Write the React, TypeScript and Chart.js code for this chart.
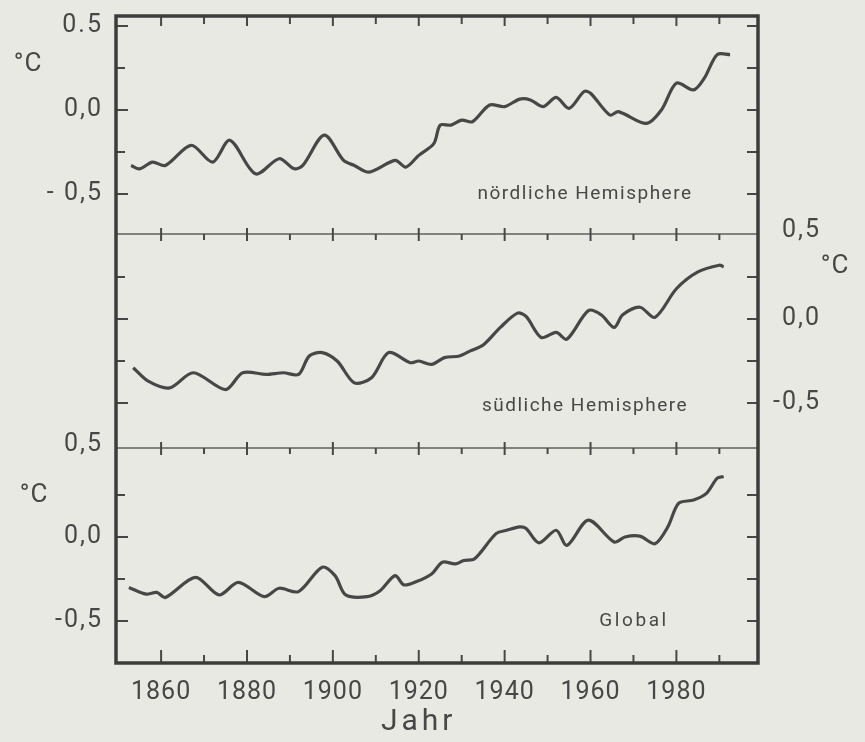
import React, { useEffect, useRef } from "react";
import { Chart, registerables } from "chart.js";

Chart.register(...registerables);

// ---------- data ----------
const NORTH_YEARS = [
  1853, 1855, 1858, 1861, 1867, 1872, 1876, 1882, 1887.5, 1891, 1893, 1898, 1902.5, 1905, 1908.5,
  1914.5, 1917, 1920, 1923.5, 1925, 1927.5, 1930, 1932.5, 1936.5, 1940, 1943.5, 1946, 1949, 1952,
  1955, 1958.5, 1960, 1964.5, 1966.5, 1973, 1976.5, 1980, 1984, 1986.5, 1989.5, 1992.5,
];
const NORTH_VALUES = [
  -0.33, -0.35, -0.31, -0.33, -0.21, -0.31, -0.18, -0.38, -0.29, -0.35, -0.33, -0.15, -0.3, -0.33, -0.37,
  -0.3, -0.34, -0.27, -0.2, -0.09, -0.09, -0.06, -0.07, 0.03, 0.02, 0.065, 0.06, 0.02, 0.075,
  0.01, 0.11, 0.1, -0.03, -0.01, -0.08, 0.0, 0.16, 0.12, 0.19, 0.33, 0.33,
];

const SOUTH_YEARS = [
  1853.5, 1857, 1862, 1867.5, 1875, 1879, 1884.5, 1888.5, 1892, 1894.5, 1897.5, 1901, 1905, 1909,
  1913, 1918, 1920, 1923, 1926, 1929.5, 1932, 1935, 1939, 1943, 1945, 1948.5, 1952, 1954.5, 1959.5,
  1962.5, 1965.5, 1967.5, 1971.5, 1975, 1980, 1985, 1990, 1991,
];
const SOUTH_VALUES = [
  -0.29, -0.37, -0.41, -0.32, -0.42, -0.32, -0.33, -0.32, -0.33, -0.22, -0.2, -0.25, -0.38, -0.35,
  -0.2, -0.26, -0.25, -0.27, -0.23, -0.22, -0.19, -0.155, -0.05, 0.035, 0.015, -0.11, -0.08, -0.12, 0.05,
  0.025, -0.05, 0.025, 0.07, 0.01, 0.18, 0.28, 0.32, 0.31,
];

const GLOBAL_YEARS = [
  1852.5, 1856.5, 1859, 1861, 1868, 1873.5, 1878, 1884, 1887.5, 1892, 1897.5, 1900.5, 1903, 1908,
  1911, 1914.5, 1916.5, 1919.5, 1923, 1925.5, 1928.5, 1930.5, 1933, 1938, 1940.5, 1943.5, 1945, 1948,
  1952, 1954.5, 1959.5, 1965.5, 1968, 1971.5, 1975, 1978, 1980.5, 1984, 1987, 1989.5, 1991,
];
const GLOBAL_VALUES = [
  -0.3, -0.34, -0.33, -0.36, -0.24, -0.345, -0.27, -0.355, -0.305, -0.325, -0.18, -0.23, -0.345, -0.355,
  -0.32, -0.23, -0.285, -0.265, -0.22, -0.15, -0.16, -0.14, -0.13, 0.02, 0.04, 0.06, 0.05, -0.035,
  0.04, -0.05, 0.1, -0.03, 0.0, 0.005, -0.04, 0.06, 0.2, 0.22, 0.26, 0.35, 0.36,
];

const X_TICKS = [1860, 1870, 1880, 1890, 1900, 1910, 1920, 1930, 1940, 1950, 1960, 1970, 1980, 1990];
const X_LABELS = [1860, 1880, 1900, 1920, 1940, 1960, 1980];
const Y_TICKS = [0.5, 0.25, 0, -0.25, -0.5];
const Y_LABEL_VALUES = [0.5, 0, -0.5];
const NORTH_TICK_LABELS = ["0.5", "0,0", "- 0,5"];
const SOUTH_TICK_LABELS = ["0,5", "0,0", "-0,5"];
const GLOBAL_TICK_LABELS = ["0,5", "0,0", "-0,5"];
const PANEL_TITLES = ["nördliche Hemisphere", "südliche Hemisphere", "Global"];
const UNIT = "°C";
const X_TITLE = "Jahr";

// ---------- layout / style ----------
const W = 865;
const H = 742;
const AREA = { left: 116, top: 16, right: 758, bottom: 663 };
const X_MIN = 1849.5;
const X_MAX = 1999;
const PPU = 168; // pixels per °C
const PANELS = [
  { id: "yN", zero: 110, top: 16, bottom: 234, side: "left", labels: NORTH_TICK_LABELS, unitValue: 0.27, unitX: 28, titleX: 585, titleValue: -0.5, title: PANEL_TITLES[0], titleSpacing: 1.5 },
  { id: "yS", zero: 319, top: 234, bottom: 448, side: "right", labels: SOUTH_TICK_LABELS, unitValue: 0.31, unitX: 835, titleX: 585, titleValue: -0.52, title: PANEL_TITLES[1], titleSpacing: 1.5 },
  { id: "yG", zero: 537, top: 448, bottom: 663, side: "left", labels: GLOBAL_TICK_LABELS, unitValue: 0.25, unitX: 34, titleX: 634, titleValue: -0.5, title: PANEL_TITLES[2], titleSpacing: 2.6 },
];
const BG = "#e9e9e4";
const INK = "#474747";
const FONT = 'Roboto, "DejaVu Sans", sans-serif';

const decor = {
  id: "decor",
  beforeDraw(chart: any) {
    const { ctx, width, height } = chart;
    ctx.save();
    ctx.fillStyle = BG;
    ctx.fillRect(0, 0, width, height);
    ctx.restore();
  },
  afterDraw(chart: any) {
    const { ctx, chartArea: a } = chart;
    const xs = chart.scales.x;
    ctx.save();
    ctx.strokeStyle = INK;
    ctx.fillStyle = INK;
    ctx.lineCap = "butt";

    const line = (x1: number, y1: number, x2: number, y2: number) => {
      ctx.beginPath();
      ctx.moveTo(x1, y1);
      ctx.lineTo(x2, y2);
      ctx.stroke();
    };

    // dividers between panels
    ctx.lineWidth = 1.3;
    ctx.strokeStyle = "#5e5e5e";
    const dividers = PANELS.slice(1).map((p) => p.top);
    dividers.forEach((y) => line(a.left, y, a.right, y));

    // x ticks
    ctx.strokeStyle = INK;
    ctx.lineWidth = 2;
    X_TICKS.forEach((t) => {
      const px = xs.getPixelForValue(t);
      const major = X_LABELS.includes(t);
      line(px, a.top, px, a.top + (major ? 10 : 8));
      dividers.forEach((y) => {
        if (major) line(px, y - 6, px, y + 7);
        else line(px, y, px, y + 6);
      });
      line(px, a.bottom, px, a.bottom - (major ? 13 : 8));
    });

    // y ticks & labels per panel
    PANELS.forEach((p) => {
      const ys = chart.scales[p.id];
      Y_TICKS.forEach((v) => {
        const py = ys.getPixelForValue(v);
        if (Math.abs(py - p.top) < 6 && p.top !== a.top) return;
        const major = Y_LABEL_VALUES.includes(v);
        ctx.lineWidth = 2;
        line(a.left, py, a.left + (major ? 12 : 9), py);
        line(a.right, py, a.right - 11, py);
      });
      ctx.font = `25px ${FONT}`;
      ctx.textBaseline = "middle";
      (ctx as any).letterSpacing = "2px";
      Y_LABEL_VALUES.forEach((v, i) => {
        let py = ys.getPixelForValue(v);
        if (v === 0.5 && p.top !== a.top) py = p.top - 3;
        ctx.textAlign = "right";
        if (p.side === "left") {
          ctx.fillText(p.labels[i], a.left - 13, py);
        } else {
          ctx.fillText(p.labels[i], a.right + 63, py);
        }
      });
      // unit
      (ctx as any).letterSpacing = "1px";
      ctx.font = `26px ${FONT}`;
      ctx.textAlign = "center";
      ctx.fillText(UNIT, p.unitX, ys.getPixelForValue(p.unitValue));
      // panel title
      ctx.font = `19px ${FONT}`;
      (ctx as any).letterSpacing = `${p.titleSpacing}px`;
      ctx.fillText(p.title, p.titleX, ys.getPixelForValue(p.titleValue));
    });

    // x labels
    (ctx as any).letterSpacing = "1px";
    ctx.font = `25px ${FONT}`;
    ctx.textAlign = "center";
    ctx.textBaseline = "middle";
    X_LABELS.forEach((t) => {
      ctx.fillText(String(t), xs.getPixelForValue(t), a.bottom + 30);
    });
    ctx.font = `30px ${FONT}`;
    (ctx as any).letterSpacing = "4px";
    ctx.fillText(X_TITLE, xs.getPixelForValue(1920), a.bottom + 59);

    // frame
    (ctx as any).letterSpacing = "0px";
    ctx.lineWidth = 3.5;
    ctx.strokeStyle = "#3c3c3c";
    ctx.strokeRect(a.left, a.top, a.right - a.left, a.bottom - a.top);
    ctx.restore();
  },
};

function series(years: number[], values: number[]) {
  return years.map((x, i) => ({ x, y: values[i] }));
}

export default function App() {
  const ref = useRef<HTMLCanvasElement>(null);
  useEffect(() => {
    const canvas = ref.current;
    if (!canvas) return;
    const yScales: any = {};
    PANELS.forEach((p) => {
      yScales[p.id] = {
        type: "linear",
        display: false,
        min: (p.zero - AREA.bottom) / PPU,
        max: (p.zero - AREA.top) / PPU,
      };
    });
    const common = {
      borderColor: INK,
      borderWidth: 3.2,
      pointRadius: 0,
      tension: 0.3,
      fill: false,
    };
    const chart = new Chart(canvas, {
      type: "line",
      data: {
        datasets: [
          { ...common, label: PANEL_TITLES[0], data: series(NORTH_YEARS, NORTH_VALUES), yAxisID: "yN" },
          { ...common, label: PANEL_TITLES[1], data: series(SOUTH_YEARS, SOUTH_VALUES), yAxisID: "yS" },
          { ...common, label: PANEL_TITLES[2], data: series(GLOBAL_YEARS, GLOBAL_VALUES), yAxisID: "yG" },
        ],
      },
      options: {
        animation: false,
        responsive: true,
        maintainAspectRatio: false,
        layout: {
          padding: { left: AREA.left, top: AREA.top, right: W - AREA.right, bottom: H - AREA.bottom },
        },
        plugins: { legend: { display: false }, tooltip: { enabled: false }, title: { display: false } },
        scales: {
          x: { type: "linear", display: false, min: X_MIN, max: X_MAX },
          ...yScales,
        },
      },
      plugins: [decor],
    } as any);
    return () => chart.destroy();
  }, []);
  return (
    <div style={{ position: "fixed", left: 0, top: 0, width: W, height: H, background: BG }}>
      <canvas ref={ref} style={{ display: "block", width: W, height: H }} />
    </div>
  );
}
